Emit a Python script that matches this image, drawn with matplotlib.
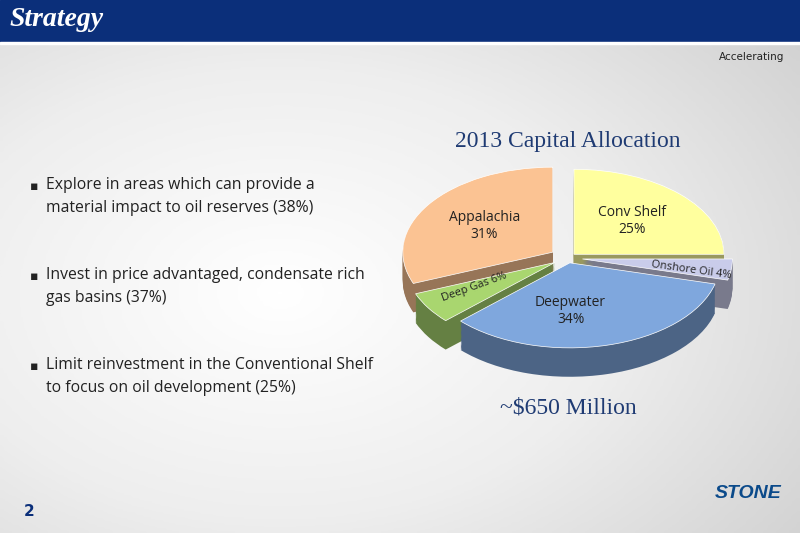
import numpy as np
import matplotlib
matplotlib.use("Agg")
import matplotlib.pyplot as plt
from matplotlib.colors import to_rgb

labels = ["Conv Shelf\n25%", "Onshore Oil 4%", "Deepwater\n34%", "Deep Gas 6%", "Appalachia\n31%"]
values = [25, 4, 34, 6, 31]
colors = ["#FFFF9E", "#C9CCEA", "#7FA7DD", "#A9D66F", "#FBC393"]
explode = [0.06, 0.1, 0.06, 0.1, 0.12]
bullets = ["Explore in areas which can provide a\nmaterial impact to oil reserves (38%)",
           "Invest in price advantaged, condensate rich\ngas basins (37%)",
           "Limit reinvestment in the Conventional Shelf\nto focus on oil development (25%)"]

fig = plt.figure(figsize=(8, 5.33), dpi=100)
bg = fig.add_axes([0, 0, 1, 1]); bg.set_axis_off()
cmap = matplotlib.colors.LinearSegmentedColormap.from_list("g", ["#FFFFFF", "#EEEEEE", "#CFCFCF"])
yy, xx = np.mgrid[0:1:200j, 0:1:200j]
r = np.sqrt((xx-0.35)**2 + (yy-0.55)**2)
bg.imshow(r, cmap=cmap, extent=[0, 1, 0, 1], aspect="auto")
bg.add_patch(plt.Rectangle((0, 1-42/533), 1, 42/533, color="#0B2F7A"))
bg.add_patch(plt.Rectangle((0, 1-44/533), 1, 2/533, color="#FFFFFF"))
bg.text(0.012, 1-20/533, "Strategy", color="white", fontsize=20, fontweight="bold",
        fontstyle="italic", family="Liberation Serif", va="center")
bg.text(0.98, 1-57/533, "Accelerating", fontsize=7.5, ha="right", va="center", color="#222222")
bg.text(0.03, 1-512/533, "2", fontsize=11, color="#0B2F7A", fontweight="bold", va="center")
bg.text(0.935, 1-493/533, "STONE", fontsize=14, color="#0B4A8A", fontweight="bold",
        family="Liberation Sans", ha="center", va="center", fontstyle="italic")
bg.set_xlim(0, 1); bg.set_ylim(0, 1)
for i, b in enumerate(bullets):
    y = 1 - (180 + i*90)/533
    bg.text(0.037, y, "▪", fontsize=9, va="top", color="#222222")
    bg.text(0.057, y + 0.006, b, fontsize=11.3, va="top", linespacing=1.6, family="Open Sans", color="#222222")
bg.text(0.71, 1-142/533, "2013 Capital Allocation", fontsize=17, family="Liberation Serif",
        color="#1F3B73", ha="center", va="center")
bg.text(0.71, 1-408/533, "~$650 Million", fontsize=17, family="Liberation Serif",
        color="#1F3B73", ha="center", va="center")

ax = fig.add_axes([0.494, 0.296, 0.431, 0.394])
ax.set_axis_off()
depth = 0.34
for k in np.linspace(depth, 0.01, 25):
    dark = [tuple(np.array(to_rgb(c)) * 0.6) for c in colors]
    ax.pie(values, colors=dark, explode=explode, startangle=90, counterclock=False,
           center=(0, -k), radius=1, wedgeprops=dict(linewidth=0))
w, t = ax.pie(values, colors=colors, explode=explode, startangle=90, counterclock=False,
              radius=1, labels=labels, labeldistance=0.55,
              textprops=dict(fontsize=10, family="Open Sans", ha="center", color="#222222"),
              wedgeprops=dict(linewidth=0.5, edgecolor="white"))
t[1].set_position((1.15*0.72, -0.14)); t[1].set_fontsize(8); t[1].set_rotation(-8)
t[3].set_position((-0.62, -0.34)); t[3].set_fontsize(8); t[3].set_rotation(20)
t[2].set_position((0.02, -0.62))
ax.set_aspect("auto")
ax.set_xlim(-1.15, 1.15)
ax.set_ylim(-1.38, 1.09)
fig.savefig("out.png", dpi=100)
